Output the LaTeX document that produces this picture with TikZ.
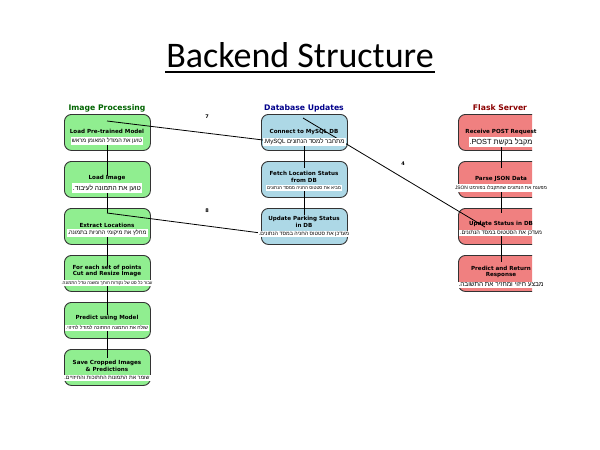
\documentclass[tikz,border=0pt]{standalone}
\usepackage{graphicx}
\usepackage{fontspec}
\setmainfont{DejaVu Sans}
\newfontfamily\hebfont[Script=Hebrew]{Liberation Sans}
\newfontfamily\titlefont{Carlito}
\TeXXeTstate=1
\definecolor{lgreen}{RGB}{144,238,144}
\definecolor{lblue}{RGB}{173,216,230}
\definecolor{lcoral}{RGB}{240,128,128}
\definecolor{dgreen}{RGB}{0,100,0}
\definecolor{dblue}{RGB}{0,0,139}
\definecolor{dred}{RGB}{139,0,0}
\newcommand\hebw[2]{\resizebox{#1pt}{!}{\hebfont\fontsize{6}{7}\selectfont #2}}
\tikzset{
  box/.style={draw=black!80, rounded corners=7pt, minimum width=86pt, minimum height=36pt, line width=0.9pt, inner sep=0pt, anchor=north west},
  ttl/.style={font=\bfseries\fontsize{5.6}{6.8}\selectfont, align=center, inner sep=0pt},
  heb/.style={fill=white, inner xsep=1pt, inner ysep=1.2pt},
  conn/.style={draw=black, line width=0.8pt},
  hdr/.style={font=\bfseries\fontsize{7.7}{9}\selectfont, inner sep=0pt},
  num/.style={font=\bfseries\fontsize{5}{6}\selectfont, inner sep=0pt}
}
\begin{document}
\begin{tikzpicture}[x=1pt,y=-1pt]
\useasboundingbox (0,0) rectangle (600,450);
\fill[white] (0,0) rectangle (600,450);
% title
\node[font=\titlefont\fontsize{36}{40}\selectfont, inner sep=0pt] (title) at (300,55) {Backend Structure};
\coordinate (ulA) at (165,72);
\coordinate (ulB) at (435,72);
\draw[line width=1.4pt] (ulA) -- (ulB);
% headers
\node[hdr, text=dgreen] (h1) at (107,108) {Image Processing};
\node[hdr, text=dblue] (h2) at (304,108) {Database Updates};
\node[hdr, text=dred] (h3) at (500,108) {Flask Server};
% boxes
\node[box, fill=lgreen] (g1) at (64,114) {};
\node[box, fill=lgreen] (g2) at (64,161) {};
\node[box, fill=lgreen] (g3) at (64,208) {};
\node[box, fill=lgreen] (g4) at (64,255) {};
\node[box, fill=lgreen] (g5) at (64,302) {};
\node[box, fill=lgreen] (g6) at (64,349) {};
\node[box, fill=lblue] (b1) at (261,114) {};
\node[box, fill=lblue] (b2) at (261,161) {};
\node[box, fill=lblue] (b3) at (261,208) {};
\begin{scope}
\clip (0,0) rectangle (532,450);
\node[box, fill=lcoral] (r1) at (458,114) {};
\node[box, fill=lcoral] (r2) at (458,161) {};
\node[box, fill=lcoral] (r3) at (458,208) {};
\node[box, fill=lcoral] (r4) at (458,255) {};
\end{scope}
% connector end points
\coordinate (g1s) at (107,141); \coordinate (g2e) at (107,176);
\coordinate (g2s) at (107,188); \coordinate (g3e) at (107,213);
\coordinate (g3s) at (107,233); \coordinate (g4e) at (107,266);
\coordinate (g4s) at (107,283); \coordinate (g5e) at (107,315);
\coordinate (g5s) at (107,328); \coordinate (g6e) at (107,358);
\coordinate (b1s) at (304,142); \coordinate (b2e) at (304,168);
\coordinate (b2s) at (304,188); \coordinate (b3e) at (304,215);
\coordinate (r1s) at (501,142); \coordinate (r2e) at (501,168);
\coordinate (r2s) at (501,188); \coordinate (r3e) at (501,213);
\coordinate (r3s) at (501,233); \coordinate (r4e) at (501,262);
\coordinate (c7a) at (107,121); \coordinate (c7b) at (300,144.5);
\coordinate (c8a) at (107,213); \coordinate (c8b) at (280,235.5);
\coordinate (c4a) at (303,118); \coordinate (c4b) at (485,227);
\draw[conn] (g1s) -- (g2e);
\draw[conn] (g2s) -- (g3e);
\draw[conn] (g3s) -- (g4e);
\draw[conn] (g4s) -- (g5e);
\draw[conn] (g5s) -- (g6e);
\draw[conn] (b1s) -- (b2e);
\draw[conn] (b2s) -- (b3e);
\draw[conn] (r1s) -- (r2e);
\draw[conn] (r2s) -- (r3e);
\draw[conn] (r3s) -- (r4e);
\draw[conn] (c7a) -- (c7b);
\draw[conn] (c8a) -- (c8b);
\draw[conn] (c4a) -- (c4b);
% titles
\node[ttl] (t1) at (107,131) {Load Pre-trained Model};
\node[ttl] (t2) at (107,178) {Load Image};
\node[ttl] (t3) at (107,225) {Extract Locations};
\node[ttl] (t4) at (107,271) {For each set of points\\Cut and Resize Image};
\node[ttl] (t5) at (107,318) {Predict using Model};
\node[ttl] (t6) at (107,366) {Save Cropped Images\\\& Predictions};
\node[ttl] (t7) at (304,132) {Connect to MySQL DB};
\node[ttl] (t8) at (304,177) {Fetch Location Status\\from DB};
\node[ttl] (t9) at (304,222) {Update Parking Status\\in DB};
\node[ttl] (t10) at (501,132) {Receive POST Request};
\node[ttl] (t11) at (501,179) {Parse JSON Data};
\node[ttl] (t12) at (501,224) {Update Status in DB};
\node[ttl] (t13) at (501,272) {Predict and Return\\Response};
% hebrew
\node[heb] (e1) at (107,141) {\hebw{70}{\beginR טוען את המודל המאומן מראש\endR}};
\node[heb] (e2) at (107,188) {\hebw{68}{\beginR טוען את התמונה לעיבוד.\endR}};
\node[heb] (e3) at (107,233) {\hebw{79}{\beginR מחלץ את מיקומי החניות בתמונה.\endR}};
\node[heb] (e4) at (107,283) {\hebw{91}{\beginR עבור כל סט של נקודות חותך ומשנה גודל התמונה.\endR}};
\node[heb] (e5) at (107,328) {\hebw{82}{\beginR שולח את התמונה החתוכה למודל לחיזוי.\endR}};
\node[heb] (e6) at (107,378) {\hebw{85}{\beginR שומר את התמונות החתוכות והחיזויים.\endR}};
\node[heb] (e7) at (304,142) {\hebw{81}{\beginR מתחבר למסד הנתונים \beginL MySQL\endL.\endR}};
\node[heb] (e8) at (304,188) {\hebw{74}{\beginR מביא את סטטוס החניה ממסד הנתונים\endR}};
\node[heb] (e9) at (304,234) {\hebw{90}{\beginR מעדכן את סטטוס החניה במסד הנתונים.\endR}};
\node[heb] (e10) at (501,142) {\hebw{63}{\beginR מקבל בקשת \beginL POST\endL.\endR}};
\node[heb] (e11) at (501,188) {\hebw{92}{\beginR מפענח את הנתונים שהתקבלו בפורמט \beginL JSON\endL\endR}};
\node[heb] (e12) at (501,233) {\hebw{82}{\beginR מעדכן את הסטטוס במסד הנתונים.\endR}};
\node[heb] (e13) at (501,285) {\hebw{85}{\beginR מבצע חיזוי ומחזיר את התשובה.\endR}};
% numbers
\node[num] (n7) at (207,117) {7};
\node[num] (n8) at (207,211) {8};
\node[num] (n4) at (403,164) {4};
\end{tikzpicture}
\end{document}
